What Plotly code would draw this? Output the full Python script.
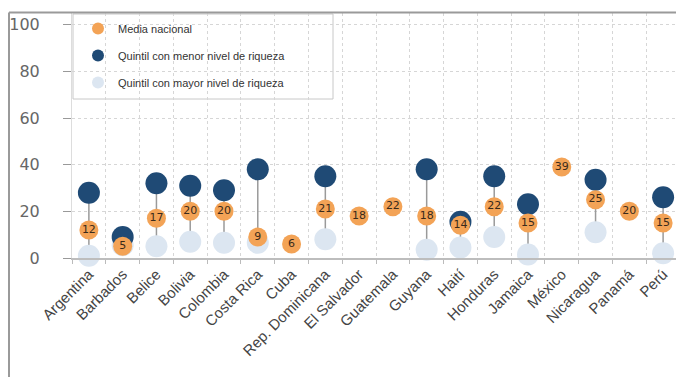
import plotly.graph_objects as go

countries = ["Argentina", "Barbados", "Belice", "Bolivia", "Colombia", "Costa Rica", "Cuba",
             "Rep. Dominicana", "El Salvador", "Guatemala", "Guyana", "Haití", "Honduras",
             "Jamaica", "México", "Nicaragua", "Panamá", "Perú"]
media_nacional = [12, 5, 17, 20, 20, 9, 6, 21, 18, 22, 18, 14, 22, 15, 39, 25, 20, 15]
quintil_pobre = [28, 9, 32, 31, 29, 38, None, 35, None, None, 38, 15.5, 35, 23, None, 33.5, None, 26]
quintil_rico = [1, 5.5, 5, 7, 6.5, 6.5, None, 8, None, None, 3.5, 4.5, 9, 1.5, None, 11, None, 2]
y_ticks = [0, 20, 40, 60, 80, 100]

OFF = 8  # page body margin
W, H = 684 - OFF, 377 - OFF
L, R, T, B = 64, 4, 5, 119

# connector lines
lx, ly = [], []
for c, p, r in zip(countries, quintil_pobre, quintil_rico):
    if p is not None and r is not None:
        lx += [c, c, None]
        ly += [r, p, None]

fig = go.Figure()
fig.add_trace(go.Scatter(x=lx, y=ly, mode="lines", line=dict(color="#9a9a9a", width=1.5),
                         showlegend=False, hoverinfo="skip", cliponaxis=False))
fig.add_trace(go.Scatter(x=countries, y=quintil_rico, mode="markers",
                         name="Quintil con mayor nivel de riqueza", legendgroup="c",
                         marker=dict(size=22, color="#DCE6F1"), cliponaxis=False,
                         legendrank=3))
fig.add_trace(go.Scatter(x=countries, y=quintil_pobre, mode="markers",
                         name="Quintil con menor nivel de riqueza", legendgroup="b",
                         marker=dict(size=22, color="#1F4A75"), cliponaxis=False,
                         legendrank=2))
fig.add_trace(go.Scatter(x=countries, y=media_nacional, mode="markers+text",
                         name="Media nacional", legendgroup="a",
                         text=[str(v) for v in media_nacional], textposition="middle center",
                         textfont=dict(family="DejaVu Sans", size=11, color="#3a2a1a"),
                         marker=dict(size=19, color="#F3A356"), cliponaxis=False,
                         legendrank=1))

plot_w = W - L - R
plot_h = H - T - B
def px_x(p):  # screen px -> paper
    return (p - OFF - L) / plot_w
def px_y(p):
    return (H - B - (p - OFF)) / plot_h

frame = dict(xref="paper", yref="paper", line=dict(color="#9a9a9a", width=2), layer="above")

fig.update_layout(
    width=W, height=H,
    margin=dict(l=L, r=R, t=T, b=B, pad=0, autoexpand=False),
    paper_bgcolor="white", plot_bgcolor="white",
    font=dict(family="Liberation Sans, Arial, sans-serif", color="#333"),
    legend=dict(x=px_x(78), y=px_y(14), xanchor="left", yanchor="top",
                bgcolor="rgba(0,0,0,0)", borderwidth=0,
                font=dict(size=11, color="#333"), tracegroupgap=8,
                itemsizing="constant", traceorder="grouped"),
    shapes=[
        dict(type="rect", xref="paper", yref="paper", x0=px_x(73), x1=px_x(333),
             y0=px_y(99), y1=px_y(14), fillcolor="white",
             line=dict(color="#c8c8c8", width=1), layer="between"),
        dict(type="line", x0=px_x(9), x1=px_x(681), y0=px_y(12.5), y1=px_y(12.5), **frame),
        dict(type="line", x0=px_x(9), x1=px_x(9), y0=px_y(12.5), y1=px_y(400), **frame),
    ],
    xaxis=dict(type="category", categoryorder="array", categoryarray=countries,
               range=[-0.5, len(countries) - 0.5], tickangle=-45, automargin=False,
               tickfont=dict(family="Liberation Sans", size=15, color="#444"),
               tickson="boundaries", ticks="outside", ticklen=4, tickcolor="#bbb",
               showgrid=True, gridcolor="#d6d6d6", griddash="dot", gridwidth=1,
               showline=True, linecolor="#bdbdbd", linewidth=1.5, zeroline=False),
    yaxis=dict(range=[0, 105], tickvals=y_ticks, automargin=False,
               tickfont=dict(family="DejaVu Sans", size=16, color="#666"),
               ticks="outside", ticklen=8, tickcolor="#999", ticklabelstandoff=20,
               showgrid=True, gridcolor="#d6d6d6", griddash="dot", gridwidth=1,
               showline=True, linecolor="#dddddd", linewidth=1, zeroline=False),
)

fig.write_html("out.html")
